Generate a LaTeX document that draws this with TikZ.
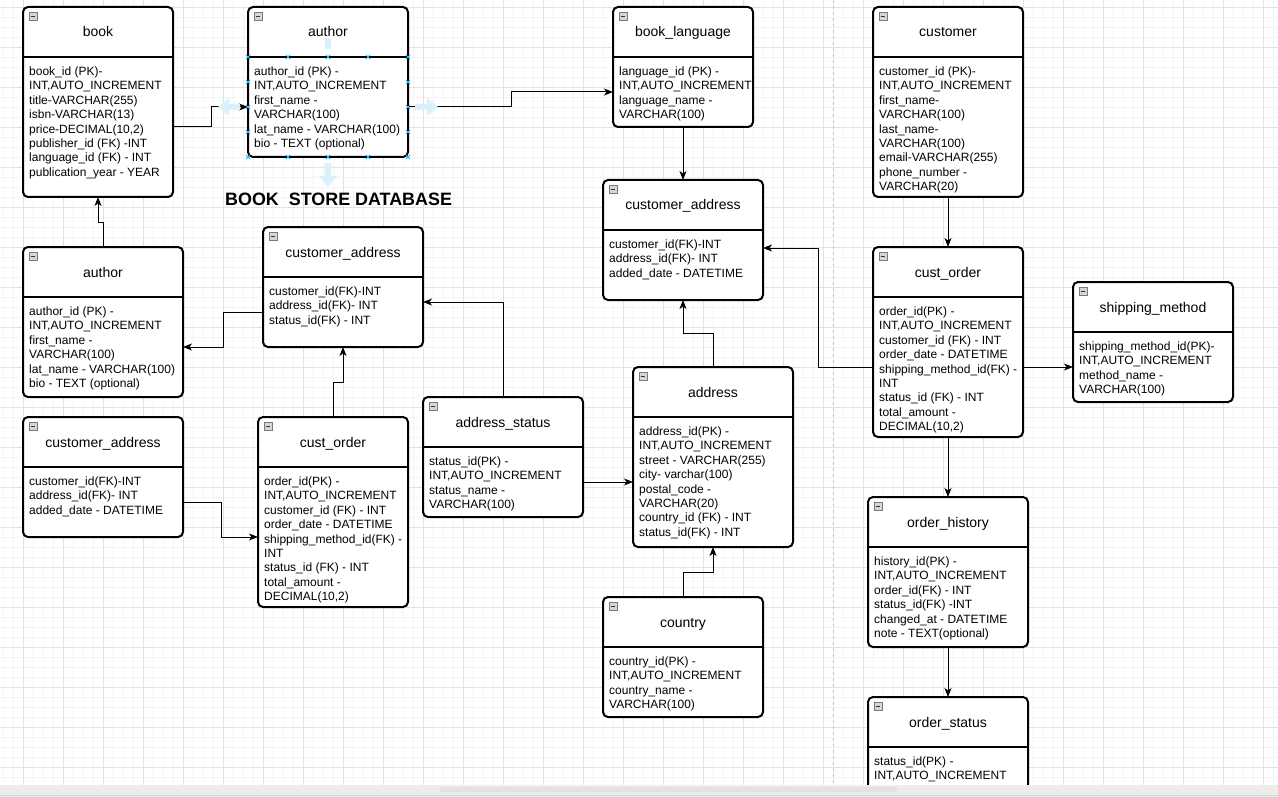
\documentclass[tikz,border=0pt]{standalone}
\usepackage{fontspec}
\setmainfont{Liberation Sans}
\usetikzlibrary{calc,arrows.meta}

\definecolor{gridmajor}{HTML}{E2E2E2}
\definecolor{gridminor}{HTML}{F4F4F4}
\definecolor{hover}{HTML}{29B6F2}
\definecolor{hoverfill}{HTML}{DAF1FC}
\definecolor{pagebreak}{HTML}{C4C4C4}
\definecolor{scrolltrack}{HTML}{ECECEC}
\definecolor{scrollthumb}{HTML}{E2E2E2}
\definecolor{scrollline}{HTML}{D4D4D4}
\definecolor{minifill}{HTML}{D6D6D6}
\definecolor{miniedge}{HTML}{7A7A7A}

\tikzset{
  tbl/.style={rectangle, draw=black, line width=2pt, fill=white,
    rounded corners=5pt, anchor=north west, inner sep=0pt, outer sep=0pt},
  divider/.style={line width=2pt},
  ttl/.style={anchor=base, inner sep=0pt, font=\fontsize{14}{16.8}\selectfont},
  bdy/.style={anchor=north west, inner sep=0pt, align=left,
    font=\fontsize{12}{14.4}\selectfont},
  mini/.style={rectangle, draw=miniedge, fill=minifill, line width=0.7pt,
    minimum size=8pt, inner sep=0pt, outer sep=0pt,
    path picture={\draw[line width=1pt, black!80]
      ([xshift=1.6pt]path picture bounding box.west) --
      ([xshift=-1.6pt]path picture bounding box.east);}},
  conn/.style={line width=1pt, -{Stealth[length=9pt,width=7pt,inset=2.5pt]}},
  hovx/.style={draw=hover, line width=0.9pt},
  hovarrow/.style={fill=hoverfill, draw=none},
}

% entity table: name, x, y, width, height, title, fields
\newcommand\erbox[7]{%
  \node[tbl, minimum width=#4pt, minimum height=#5pt] (#1) at (#2,#3) {};
  \draw[divider] ($(#1.north west)+(0,50)$) -- ($(#1.north east)+(0,50)$);
  \node[ttl] (#1-t) at ($(#1.north)+(0,30)$) {#6};
  \node[bdy] (#1-b) at ($(#1.north west)+(6,59.6)$) {#7};
  \node[mini] (#1-m) at ($(#1.north west)+(10,9.5)$) {};
}

\begin{document}
\begin{tikzpicture}[x=1pt,y=-1pt]
\useasboundingbox (0,0) rectangle (1278,797);
\fill[white] (0,0) rectangle (1278,797);

% background grid
\foreach \gx in {3,13,...,1273} \draw[gridminor, line width=0.8pt] (\gx,0) -- (\gx,785);
\foreach \gy in {7,17,...,777} \draw[gridminor, line width=0.8pt] (0,\gy) -- (1278,\gy);
\foreach \gx in {23,63,...,1263} \draw[gridmajor, line width=0.9pt] (\gx,0) -- (\gx,785);
\foreach \gy in {7,47,...,767} \draw[gridmajor, line width=0.9pt] (0,\gy) -- (1278,\gy);

% page break
\draw[pagebreak, line width=0.9pt, dash pattern=on 3pt off 3pt] (833,0) -- (833,785);

% tables
\erbox{book}{23}{7}{150}{190}{book}{book\_id (PK)-\\INT,AUTO\_INCREMENT\\title-VARCHAR(255)\\isbn-VARCHAR(13)\\price-DECIMAL(10,2)\\publisher\_id (FK) -INT\\language\_id (FK) - INT\\publication\_year - YEAR}
\erbox{authorA}{248}{7}{160}{150}{author}{author\_id (PK) -\\INT,AUTO\_INCREMENT\\first\_name -\\VARCHAR(100)\\lat\_name - VARCHAR(100)\\bio - TEXT (optional)}
\erbox{lang}{613}{7}{140}{120}{book\_language}{language\_id (PK) -\\INT,AUTO\_INCREMENT\\language\_name -\\VARCHAR(100)}
\erbox{cust}{873}{7}{150}{190}{customer}{customer\_id (PK)-\\INT,AUTO\_INCREMENT\\first\_name-\\VARCHAR(100)\\last\_name-\\VARCHAR(100)\\email-VARCHAR(255)\\phone\_number -\\VARCHAR(20)}
\erbox{caR}{603}{180}{160}{120}{customer\_address}{customer\_id(FK)-INT\\address\_id(FK)- INT\\added\_date - DATETIME}
\erbox{authB}{23}{247}{160}{150}{author}{author\_id (PK) -\\INT,AUTO\_INCREMENT\\first\_name -\\VARCHAR(100)\\lat\_name - VARCHAR(100)\\bio - TEXT (optional)}
\erbox{caM}{263}{227}{160}{120}{customer\_address}{customer\_id(FK)-INT\\address\_id(FK)- INT\\status\_id(FK) - INT}
\erbox{caL}{23}{417}{160}{120}{customer\_address}{customer\_id(FK)-INT\\address\_id(FK)- INT\\added\_date - DATETIME}
\erbox{coL}{258}{417}{150}{190}{cust\_order}{order\_id(PK) -\\INT,AUTO\_INCREMENT\\customer\_id (FK) - INT\\order\_date - DATETIME\\shipping\_method\_id(FK) -\\INT\\status\_id (FK) - INT\\total\_amount -\\DECIMAL(10,2)}
\erbox{ast}{423}{397}{160}{120}{address\_status}{status\_id(PK) -\\INT,AUTO\_INCREMENT\\status\_name -\\VARCHAR(100)}
\erbox{addr}{633}{367}{160}{180}{address}{address\_id(PK) -\\INT,AUTO\_INCREMENT\\street - VARCHAR(255)\\city- varchar(100)\\postal\_code -\\VARCHAR(20)\\country\_id (FK) - INT\\status\_id(FK) - INT}
\erbox{ctry}{603}{597}{160}{120}{country}{country\_id(PK) -\\INT,AUTO\_INCREMENT\\country\_name -\\VARCHAR(100)}
\erbox{coR}{873}{247}{150}{190}{cust\_order}{order\_id(PK) -\\INT,AUTO\_INCREMENT\\customer\_id (FK) - INT\\order\_date - DATETIME\\shipping\_method\_id(FK) -\\INT\\status\_id (FK) - INT\\total\_amount -\\DECIMAL(10,2)}
\erbox{ship}{1073}{282}{160}{120}{shipping\_method}{shipping\_method\_id(PK)-\\INT,AUTO\_INCREMENT\\method\_name -\\VARCHAR(100)}
\erbox{ohist}{868}{497}{160}{150}{order\_history}{history\_id(PK) -\\INT,AUTO\_INCREMENT\\order\_id(FK) - INT\\status\_id(FK) -INT\\changed\_at - DATETIME\\note - TEXT(optional)}
\erbox{ostat}{868}{697}{160}{150}{order\_status}{status\_id(PK) -\\INT,AUTO\_INCREMENT}

% heading
\node[anchor=base west, inner sep=0pt, font=\bfseries\fontsize{17.9}{20}\selectfont]
  (heading) at (225,206) {BOOK~~STORE DATABASE};

% relationships
\draw[conn] ($(book.north east)+(0,120)$) -- ++(38,0) |- ($(authorA.north west)+(0,100)$);
\draw[conn] ($(authorA.north east)+(0,100)$) -- ++(103,0) |- ($(lang.north west)+(0,85)$);
\draw[conn] (lang.south) -- (caR.north);
\draw[conn] (authB.north) -- ++(0,-25) -| (book.south);
\draw[conn] ($(caM.north west)+(0,85)$) -- ++(-40,0) |- ($(authB.north east)+(0,100)$);
\draw[conn] (coL.north) -- ++(0,-35) -| (caM.south);
\draw[conn] (ast.north) |- ($(caM.north east)+(0,75)$);
\draw[conn] ($(caL.north east)+(0,85)$) -- ++(38,0) |- ($(coL.north west)+(0,120)$);
\draw[conn] ($(ast.north east)+(0,85)$) -- ($(addr.north west)+(0,115)$);
\draw[conn] (addr.north) -- ++(0,-34) -| (caR.south);
\draw[conn] (ctry.north) -- ++(0,-25) -| (addr.south);
\draw[conn] (cust.south) -- (coR.north);
\draw[conn] ($(coR.north west)+(0,120)$) -- ++(-55,0) |- ($(caR.north east)+(0,68)$);
\draw[conn] ($(coR.north east)+(0,120)$) -- ($(ship.north west)+(0,85)$);
\draw[conn] (coR.south) -- (ohist.north);
\draw[conn] (ohist.south) -- (ostat.north);

% hover handles around the selected author fields
\fill[hovarrow] ($(authorA.north)+(-3,31)$) rectangle ($(authorA.north)+(3,42)$);
\fill[hovarrow] ($(authorA.south)+(-3,6)$) rectangle ($(authorA.south)+(3,19)$)
  ($(authorA.south)+(-9,19)$) -- ($(authorA.south)+(9,19)$) -- ($(authorA.south)+(0,30)$) -- cycle;
\fill[hovarrow] ($(authorA.north west)+(-8,97)$) rectangle ($(authorA.north west)+(-19,103)$)
  ($(authorA.north west)+(-19,91)$) -- ($(authorA.north west)+(-19,109)$) -- ($(authorA.north west)+(-30,100)$) -- cycle;
\fill[hovarrow] ($(authorA.north east)+(7,97)$) rectangle ($(authorA.north east)+(19,103)$)
  ($(authorA.north east)+(19,91)$) -- ($(authorA.north east)+(19,109)$) -- ($(authorA.north east)+(30,100)$) -- cycle;
\foreach \dx in {0,40,...,160} {
  \draw[hovx] ($(authorA.north west)+(\dx,50)$) +(-2,-2) -- +(2,2) +(-2,2) -- +(2,-2);
  \draw[hovx] ($(authorA.south west)+(\dx,0)$) +(-2,-2) -- +(2,2) +(-2,2) -- +(2,-2);
}
\foreach \dy in {75,100,125} {
  \draw[hovx] ($(authorA.north west)+(0,\dy)$) +(-2,-2) -- +(2,2) +(-2,2) -- +(2,-2);
  \draw[hovx] ($(authorA.north east)+(0,\dy)$) +(-2,-2) -- +(2,2) +(-2,2) -- +(2,-2);
}

% horizontal scrollbar
\fill[scrolltrack] (0,785) rectangle (1278,797);
\fill[scrollthumb] (440,786.5) rectangle (897,792);
\draw[scrollline, line width=1pt] (0,795.5) -- (1278,795.5);
\end{tikzpicture}
\end{document}
